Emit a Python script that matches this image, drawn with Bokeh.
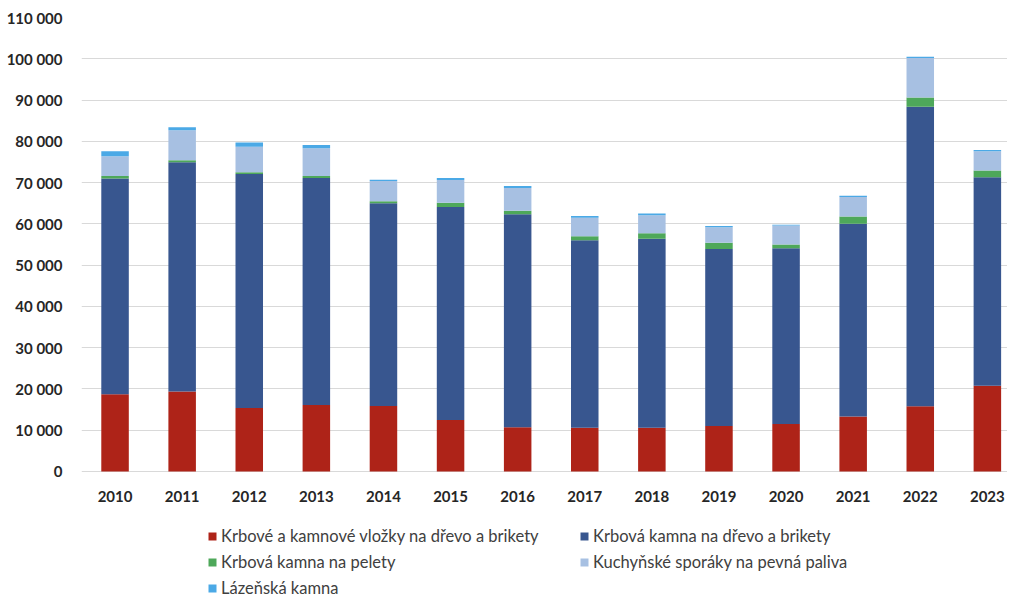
from bokeh.plotting import figure
from bokeh.models import (ColumnDataSource, Range1d, FixedTicker, Legend, LegendItem)
from bokeh.embed import file_html
from bokeh.resources import INLINE

years = ["2010", "2011", "2012", "2013", "2014", "2015", "2016",
         "2017", "2018", "2019", "2020", "2021", "2022", "2023"]
vlozky = [18700, 19400, 15400, 16100, 15900, 12500, 10700,
          10600, 10600, 11000, 11500, 13300, 15800, 20800]
kamna_drevo = [52300, 55500, 56700, 55000, 49100, 51600, 51600,
               45400, 45800, 42900, 42600, 46700, 72600, 50500]
kamna_pelety = [600, 500, 400, 500, 500, 1000, 900,
                1000, 1300, 1500, 900, 1800, 2200, 1600]
sporaky = [4800, 7300, 6200, 6700, 4900, 5500, 5500,
           4500, 4400, 3800, 4600, 4700, 9600, 4700]
lazenska = [1200, 700, 1000, 800, 300, 500, 500,
            400, 400, 300, 200, 300, 300, 300]

series_names = ["Krbové a kamnové vložky na dřevo a brikety",
                "Krbová kamna na dřevo a brikety",
                "Krbová kamna na pelety",
                "Kuchyňské sporáky na pevná paliva",
                "Lázeňská kamna"]
colors = ["#AE2318", "#38568F", "#4EA85A", "#A7C0E2", "#4BA9E6"]
y_ticks = list(range(0, 110001, 10000))

keys = ["s0", "s1", "s2", "s3", "s4"]
source = ColumnDataSource(data=dict(
    x=list(range(len(years))),
    s0=vlozky, s1=kamna_drevo, s2=kamna_pelety, s3=sporaky, s4=lazenska))

# frame spans the legend area too; the x axis is pinned at y = 0
p = figure(width=1007, height=598, output_backend="svg", toolbar_location=None,
           x_range=Range1d(-0.5, 13.30), y_range=Range1d(-30771, 110000),
           min_border_left=81, min_border_right=0, min_border_top=17,
           min_border_bottom=0)
p.outline_line_color = None

renderers = p.vbar_stack(keys, x="x", width=0.41, source=source,
                         color=colors, line_color=None)

FONT = "Lato"
p.yaxis.ticker = FixedTicker(ticks=y_ticks)
p.yaxis.major_label_overrides = {t: f"{t:,}".replace(",", " ") for t in y_ticks}
p.xaxis.ticker = FixedTicker(ticks=list(range(len(years))))
p.xaxis.major_label_overrides = {i: y for i, y in enumerate(years)}
p.xaxis.fixed_location = 0
for ax in (p.xaxis, p.yaxis):
    ax.axis_line_color = None
    ax.major_tick_line_color = None
    ax.minor_tick_line_color = None
    ax.major_label_text_font = FONT
    ax.major_label_text_font_style = "bold"
    ax.major_label_text_font_size = "15px"
    ax.major_label_text_color = "#262626"
p.yaxis.major_label_standoff = 13
p.xaxis.major_label_standoff = 14

p.xgrid.grid_line_color = None
p.ygrid.ticker = FixedTicker(ticks=y_ticks)
p.ygrid.grid_line_color = "#D9D9D9"
p.ygrid.grid_line_width = 1

items = [LegendItem(label=n, renderers=[r]) for n, r in zip(series_names, renderers)]
legend = Legend(items=items, orientation="horizontal", ncols=2,
                location=(126, 0), padding=0, margin=0,
                border_line_color=None, background_fill_alpha=0,
                glyph_width=10, glyph_height=10, label_standoff=4,
                label_width=352, label_height=16, spacing=6,
                label_text_font=FONT, label_text_font_size="16.5px",
                label_text_color="#404040")
p.add_layout(legend, "center")

open("out.html", "w").write(file_html(p, INLINE))
